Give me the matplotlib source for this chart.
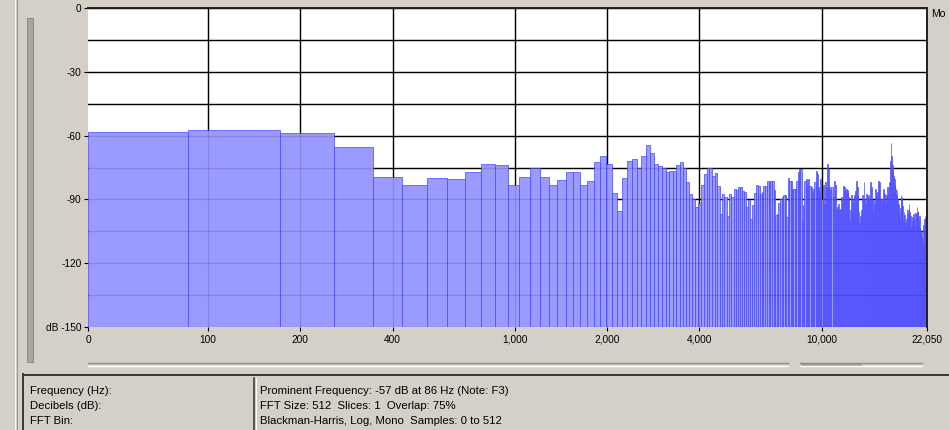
import matplotlib.pyplot as plt
import numpy as np
from matplotlib.lines import Line2D
from matplotlib.patches import Rectangle
from matplotlib.ticker import NullLocator

# 512-point FFT of a 44.1 kHz signal -> 256 bins of ~86 Hz
sample_rate = 44100
fft_size = 512
freq_min = 40.7  # left edge of the log axis (labelled "0")

db_values = [
    -58.2, -57.3, -58.7, -65.2, -79.3, -83.1, -79.9, -80.4, -77.1, -73.3,
    -74.0, -83.1, -79.3, -75.1, -79.3, -83.1, -80.9, -77.1, -77.1, -83.1,
    -81.3, -72.2, -69.6, -73.2, -86.8, -95.6, -79.8, -72.1, -70.8, -75.0,
    -69.6, -64.3, -68.2, -73.4, -74.5, -75.1, -77.3, -76.8, -76.5, -73.9,
    -72.2, -75.0, -82.0, -87.4, -90.0, -93.7, -91.5, -83.1, -78.1, -75.0,
    -75.1, -78.9, -77.6, -83.5, -96.9, -87.4, -88.7, -97.9, -87.4, -88.9,
    -85.0, -85.5, -84.3, -84.3, -86.0, -86.6, -93.8, -90.4, -99.0, -92.8,
    -87.0, -83.2, -83.8, -87.4, -86.6, -83.5, -83.5, -81.5, -82.0, -81.2,
    -81.2, -85.8, -97.4, -97.0, -91.5, -89.7, -88.9, -88.1, -88.1, -98.2,
    -80.1, -81.2, -81.2, -85.3, -85.0, -85.0, -81.2, -77.3, -75.5, -75.5,
    -100.0, -92.8, -81.2, -80.4, -83.5, -80.4, -83.5, -84.0, -86.6, -85.0,
    -82.0, -76.5, -78.1, -84.3, -86.0, -80.4, -89.7, -83.2, -92.0, -82.0,
    -84.0, -73.4, -75.8, -84.3, -85.8, -84.4, -88.9, -81.2, -83.0, -94.3,
    -93.5, -92.0, -95.1, -94.3, -88.9, -90.0, -83.5, -84.3, -86.0, -85.0,
    -85.8, -87.0, -88.9, -100.0, -95.0, -88.1, -89.7, -91.0, -88.1, -86.0,
    -81.2, -84.3, -88.0, -95.9, -101.0, -98.0, -95.0, -88.0, -90.0, -82.0,
    -89.7, -92.0, -87.4, -88.9, -90.0, -88.1, -90.0, -82.0, -84.0, -90.4,
    -95.0, -90.4, -92.0, -85.3, -87.0, -89.0, -86.6, -81.2, -85.0, -82.0,
    -90.0, -89.7, -93.0, -90.0, -85.0, -88.0, -87.4, -91.0, -88.1, -92.0,
    -84.3, -87.0, -84.3, -82.0, -72.0, -63.7, -69.6, -74.0, -77.3, -79.0,
    -80.4, -83.0, -85.0, -88.0, -85.8, -90.0, -92.0, -96.0, -99.0, -94.0,
    -88.1, -90.0, -88.9, -93.0, -99.7, -96.0, -97.4, -101.0, -103.6, -99.0,
    -94.3, -97.0, -95.0, -92.0, -96.0, -100.5, -98.0, -102.8, -100.0, -98.2,
    -101.0, -97.0, -99.0, -103.0, -96.6, -99.0, -97.0, -93.5, -96.0, -95.9,
    -100.0, -98.0, -103.6, -106.0, -104.4, -108.0, -105.0, -111.3, -113.5, -102.0,
    -105.0, -99.0, -97.7, -101.0, -100.5, -96.0,
]

x_ticks = [100, 200, 400, 1000, 2000, 4000, 10000, 22050]
x_tick_labels = ['100', '200', '400', '1,000', '2,000', '4,000', '10,000', '22,050']
x_grid = [100, 200, 400, 1000, 2000, 4000, 10000]
y_ticks = [0, -30, -60, -90, -120, -150]
y_tick_labels = ['0', '-30', '-60', '-90', '-120', 'dB -150']
y_grid = list(range(-150, 1, 15))

info_left = ['Frequency (Hz):', 'Decibels (dB):', 'FFT Bin:']
info_right = ['Prominent Frequency: -57 dB at 86 Hz (Note: F3)',
              'FFT Size: 512  Slices: 1  Overlap: 75%',
              'Blackman-Harris, Log, Mono  Samples: 0 to 512']

W, H = 949, 430
BG = '#d4d0c8'
plt.rcParams['font.family'] = ['Liberation Sans', 'DejaVu Sans']

fig = plt.figure(figsize=(W / 100, H / 100), dpi=100, facecolor=BG)


def fx(x):
    return x / W


def fy(y):
    return 1 - y / H


def hline(x0, x1, y, color, lw=1.0):
    fig.add_artist(Line2D([fx(x0), fx(x1)], [fy(y), fy(y)], color=color,
                          lw=lw * 0.72, transform=fig.transFigure))


def vline(x, y0, y1, color, lw=1.0):
    fig.add_artist(Line2D([fx(x), fx(x)], [fy(y0), fy(y1)], color=color,
                          lw=lw * 0.72, transform=fig.transFigure))


# plot area: x 88..927, y 8..327 px
ax = fig.add_axes([fx(88), fy(327), fx(927) - fx(88), (327 - 8) / H])
ax.set_facecolor('white')
ax.set_xscale('log')
ax.set_xlim(freq_min, sample_rate / 2)
ax.set_ylim(-150, 0)

df = sample_rate / fft_size
vals = np.array(db_values)
lefts = np.arange(len(vals)) * df
rights = lefts + df
lefts[0] = freq_min
ax.bar(lefts, vals + 150, width=rights - lefts, bottom=-150, align='edge',
       color='#9b9bff', edgecolor='#4646ff', linewidth=0.5, zorder=2)

# grid under the bars, and a faint copy on top so it shows through
for y in y_grid:
    ax.axhline(y, color='black', lw=1.0, zorder=1)
    ax.axhline(y, color='black', lw=1.0, alpha=0.13, zorder=3)
for x in x_grid:
    ax.axvline(x, color='black', lw=1.0, zorder=1)
    ax.axvline(x, color='black', lw=1.0, alpha=0.13, zorder=3)

ax.xaxis.set_minor_locator(NullLocator())
ax.set_xticks([freq_min] + x_ticks)
ax.set_xticklabels(['0'] + x_tick_labels)
ax.set_yticks(y_ticks)
ax.set_yticklabels(y_tick_labels)
ax.tick_params(axis='both', length=3.2, width=0.8, color='black',
               labelsize=7.3, pad=1.5)
ax.tick_params(axis='x', pad=2.5)

for side in ['left', 'bottom']:
    ax.spines[side].set_visible(False)
for side in ['top', 'right']:
    ax.spines[side].set_color('#202020')
    ax.spines[side].set_linewidth(1.4)
    ax.spines[side].set_zorder(4)

fig.text(fx(931), fy(14), 'Mo', fontsize=7.5, va='center', ha='left')

# window frame on the left
vline(14.5, 0, 430, '#f7f6f2')
vline(16.5, 0, 430, '#9a978f')

# vertical slider
fig.add_artist(Rectangle((fx(26.5), fy(362)), fx(6.5), (362 - 17.5) / H,
                         transform=fig.transFigure, facecolor='#a9a69e',
                         edgecolor='#8c8982', lw=0.7))

# horizontal sliders under the x axis
hline(88, 788, 362.5, '#8f8c85', 1.4)
hline(88, 788, 365.8, '#ffffff', 1.4)
hline(800, 922, 362.5, '#8f8c85', 1.4)
hline(800, 922, 365.8, '#ffffff', 1.4)
fig.add_artist(Rectangle((fx(800.5), fy(365.5)), fx(61.5), 3.0 / H,
                         transform=fig.transFigure, facecolor='#a6a39c',
                         edgecolor='none'))

# info panel
hline(23, 949, 374.8, '#3a3a3a', 2.0)
vline(23.3, 374, 430, '#3a3a3a', 2.0)
vline(254.3, 378, 430, '#3a3a3a', 1.6)
vline(256, 378, 430, '#ffffff', 1.0)

for i, (left, right) in enumerate(zip(info_left, info_right)):
    y = 391.5 + i * 14.5
    fig.text(fx(30), fy(y), left, fontsize=8.2, va='center', ha='left')
    fig.text(fx(259.5), fy(y), right, fontsize=8.2, va='center', ha='left')

fig.savefig('out.png', dpi=100, facecolor=BG)
